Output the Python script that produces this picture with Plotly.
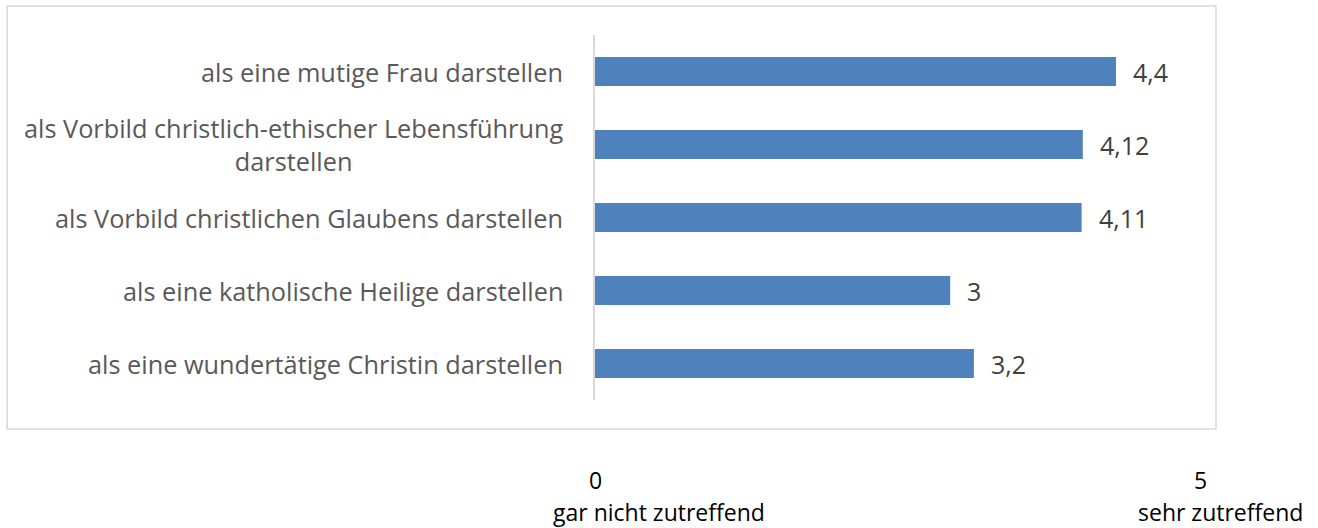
import plotly.graph_objects as go

categories = [
    "als eine mutige Frau darstellen",
    "als Vorbild christlich-ethischer Lebensführung<br>darstellen",
    "als Vorbild christlichen Glaubens darstellen",
    "als eine katholische Heilige darstellen",
    "als eine wundertätige Christin darstellen",
]
values = [4.4, 4.12, 4.11, 3, 3.2]
value_labels = ["4,4", "4,12", "4,11", "3", "3,2"]
scale_labels = [("0", "gar nicht zutreffend"), ("5", "sehr zutreffend")]

FONT = "Open Sans"
fig = go.Figure(go.Bar(
    y=categories, x=values, orientation="h",
    marker=dict(color="#4F81BD", line=dict(width=0)),
    width=0.4, hoverinfo="skip",
))

ann = []
for c in categories:
    ann.append(dict(xref="paper", yref="y", x=-0.05, y=c, text=c, showarrow=False,
                    xanchor="right", yanchor="middle", align="center",
                    font=dict(family=FONT, size=25.3, color="#595959")))
for c, v, t in zip(categories, values, value_labels):
    ann.append(dict(xref="x", yref="y", x=v, y=c, text=t, showarrow=False,
                    xanchor="left", yanchor="middle", xshift=15,
                    font=dict(family=FONT, size=25, color="#404040")))
ann += [
    dict(xref="paper", yref="paper", x=0, y=-0.219, text=scale_labels[0][0], showarrow=False,
         xanchor="center", yanchor="middle", font=dict(family=FONT, size=23, color="#000000")),
    dict(xref="paper", yref="paper", x=0.108, y=-0.307, text=scale_labels[0][1], showarrow=False,
         xanchor="center", yanchor="middle", font=dict(family=FONT, size=23, color="#000000")),
    dict(xref="paper", yref="paper", x=1.0236, y=-0.219, text=scale_labels[1][0], showarrow=False,
         xanchor="center", yanchor="middle", font=dict(family=FONT, size=23, color="#000000")),
    dict(xref="paper", yref="paper", x=1.056, y=-0.307, text=scale_labels[1][1], showarrow=False,
         xanchor="center", yanchor="middle", font=dict(family=FONT, size=23, color="#000000")),
]

fig.update_layout(
    width=1318, height=528,
    margin=dict(l=595, r=131, t=35, b=128),
    paper_bgcolor="white", plot_bgcolor="white",
    showlegend=False,
    xaxis=dict(range=[0, 5], showgrid=False, zeroline=False, showticklabels=False,
               showline=False, fixedrange=True),
    yaxis=dict(autorange="reversed", showticklabels=False, showgrid=False,
               zeroline=False, showline=True, linecolor="#D9D9D9", linewidth=1.5,
               fixedrange=True),
    annotations=ann,
    shapes=[dict(type="rect", xref="paper", yref="paper",
                 x0=-0.993, x1=1.049, y0=-0.0795, y1=1.0795,
                 line=dict(color="#D9D9D9", width=1.5), fillcolor="rgba(0,0,0,0)",
                 layer="below")],
)

fig.write_html("out.html", config={"displayModeBar": False},
               post_script="document.body.style.margin='0';document.body.style.overflow='hidden';")
